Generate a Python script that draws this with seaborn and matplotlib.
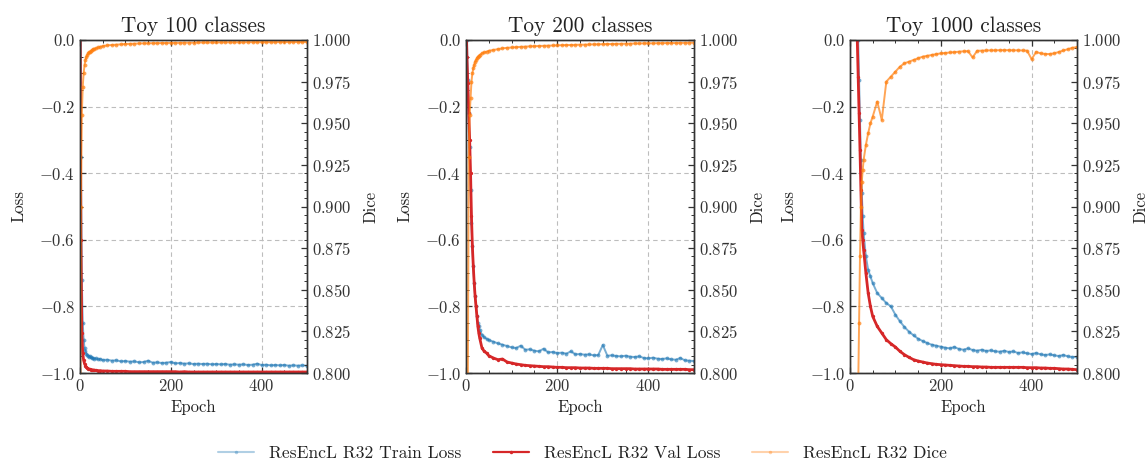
import matplotlib
matplotlib.use("Agg")
import matplotlib.pyplot as plt
import seaborn as sns
import pandas as pd
from matplotlib.ticker import MultipleLocator
from matplotlib.lines import Line2D

# ---------------- data ----------------
TITLES = ["Toy 100 classes", "Toy 200 classes", "Toy 1000 classes"]
LEGEND_LABELS = ["ResEncL R32 Train Loss", "ResEncL R32 Val Loss", "ResEncL R32 Dice"]

EPOCHS = [0, 2, 4, 6, 8, 10, 12, 14, 16, 18, 20, 22, 24, 26, 28, 30,
          35, 40, 45, 50,
          60, 70, 80, 90, 100, 110, 120, 130, 140, 150,
          160, 170, 180, 190, 200, 210, 220, 230, 240, 250,
          260, 270, 280, 290, 300, 310, 320, 330, 340, 350,
          360, 370, 380, 390, 400, 410, 420, 430, 440, 450,
          460, 470, 480, 490, 500]

# Toy 100 classes
train_100 = [0.30, -0.35, -0.72, -0.85, -0.90, -0.925, -0.935, -0.942, -0.946, -0.948, -0.951, -0.950, -0.953, -0.955, -0.954, -0.957,
             -0.956, -0.959, -0.958, -0.961,
             -0.960, -0.963, -0.962, -0.965, -0.964, -0.966, -0.965, -0.968, -0.967, -0.963,
             -0.969, -0.968, -0.970, -0.969, -0.967, -0.971, -0.970, -0.972, -0.971, -0.973,
             -0.972, -0.973, -0.972, -0.974, -0.973, -0.974, -0.973, -0.975, -0.974, -0.975,
             -0.974, -0.976, -0.975, -0.972, -0.976, -0.975, -0.977, -0.976, -0.977, -0.976,
             -0.978, -0.977, -0.978, -0.977, -0.978]
val_100 = [0.20, -0.60, -0.88, -0.94, -0.962, -0.972, -0.978, -0.982, -0.985, -0.987, -0.988, -0.989, -0.990, -0.990, -0.991, -0.991,
           -0.992, -0.993, -0.993, -0.994,
           -0.994, -0.995, -0.995, -0.995, -0.995, -0.996, -0.996, -0.996, -0.996, -0.996,
           -0.996, -0.996, -0.996, -0.996, -0.996, -0.996, -0.997, -0.996, -0.997, -0.997,
           -0.997, -0.997, -0.997, -0.997, -0.997, -0.997, -0.997, -0.997, -0.997, -0.997,
           -0.997, -0.997, -0.997, -0.997, -0.997, -0.997, -0.997, -0.997, -0.997, -0.997,
           -0.997, -0.997, -0.997, -0.997, -0.997]
dice_100 = [0.70, 0.90, 0.955, 0.972, 0.980, 0.985, 0.988, 0.990, 0.991, 0.992, 0.9925, 0.993, 0.9935, 0.994, 0.9943, 0.9946,
            0.995, 0.9955, 0.996, 0.9963,
            0.9968, 0.997, 0.9972, 0.9974, 0.9976, 0.9977, 0.9978, 0.9979, 0.998, 0.998,
            0.9981, 0.9981, 0.9982, 0.9982, 0.9983, 0.9983, 0.9983, 0.9984, 0.9984, 0.9984,
            0.9985, 0.9985, 0.9985, 0.9985, 0.9985, 0.9986, 0.9986, 0.9986, 0.9986, 0.9986,
            0.9986, 0.9987, 0.9987, 0.9987, 0.9987, 0.9987, 0.9987, 0.9987, 0.9988, 0.9988,
            0.9988, 0.9988, 0.9988, 0.9988, 0.9988]

# Toy 200 classes
train_200 = [0.30, 0.00, -0.12, -0.22, -0.32, -0.45, -0.55, -0.62, -0.68, -0.73, -0.77, -0.80, -0.83, -0.85, -0.86, -0.87,
             -0.885, -0.893, -0.897, -0.901,
             -0.906, -0.911, -0.915, -0.919, -0.923, -0.925, -0.918, -0.930, -0.929, -0.933,
             -0.935, -0.927, -0.938, -0.937, -0.940, -0.939, -0.942, -0.935, -0.944, -0.943,
             -0.945, -0.944, -0.947, -0.946, -0.916, -0.948, -0.947, -0.949, -0.950, -0.948,
             -0.951, -0.952, -0.950, -0.955, -0.956, -0.954, -0.957, -0.958, -0.956, -0.959,
             -0.960, -0.955, -0.962, -0.963, -0.964]
val_200 = [0.10, -0.05, -0.13, -0.22, -0.30, -0.40, -0.53, -0.62, -0.68, -0.73, -0.77, -0.80, -0.83, -0.86, -0.88, -0.895,
           -0.925, -0.935, -0.940, -0.948,
           -0.955, -0.960, -0.958, -0.967, -0.970, -0.973, -0.975, -0.977, -0.978, -0.979,
           -0.980, -0.981, -0.981, -0.982, -0.983, -0.983, -0.984, -0.984, -0.984, -0.985,
           -0.985, -0.985, -0.986, -0.986, -0.986, -0.986, -0.987, -0.987, -0.987, -0.987,
           -0.987, -0.988, -0.988, -0.988, -0.988, -0.988, -0.988, -0.989, -0.989, -0.989,
           -0.989, -0.989, -0.989, -0.990, -0.990]
dice_200 = [0.30, 0.60, 0.79, 0.93, 0.955, 0.965, 0.975, 0.980, 0.983, 0.985, 0.987, 0.988, 0.989, 0.990, 0.9905, 0.991,
            0.992, 0.9925, 0.993, 0.9935,
            0.994, 0.9945, 0.995, 0.9953, 0.9955, 0.9957, 0.9959, 0.996, 0.9962, 0.9963,
            0.9964, 0.9965, 0.9966, 0.9967, 0.9968, 0.9969, 0.997, 0.997, 0.9971, 0.9972,
            0.9972, 0.9973, 0.9974, 0.9974, 0.9975, 0.9976, 0.9976, 0.9977, 0.9977, 0.9978,
            0.9978, 0.9979, 0.9979, 0.998, 0.998, 0.998, 0.9981, 0.9981, 0.9982, 0.9982,
            0.9982, 0.9983, 0.9983, 0.9984, 0.9984]

# Toy 1000 classes
train_1000 = [1.60, 1.45, 1.30, 1.10, 0.90, 0.70, 0.50, 0.30, 0.12, 0.00, -0.12, -0.24, -0.36, -0.46, -0.53, -0.58,
              -0.65, -0.69, -0.71, -0.73,
              -0.76, -0.775, -0.79, -0.80, -0.825, -0.845, -0.862, -0.876, -0.887, -0.897,
              -0.904, -0.910, -0.915, -0.918, -0.921, -0.924, -0.926, -0.922, -0.928, -0.930,
              -0.926, -0.931, -0.933, -0.930, -0.934, -0.932, -0.935, -0.936, -0.933, -0.937,
              -0.935, -0.940, -0.938, -0.941, -0.943, -0.940, -0.944, -0.946, -0.944, -0.947,
              -0.949, -0.946, -0.950, -0.952, -0.951]
val_1000 = [2.00, 1.80, 1.60, 1.35, 1.05, 0.80, 0.50, 0.25, 0.00, -0.11, -0.22, -0.33, -0.45, -0.57, -0.60, -0.63,
            -0.70, -0.76, -0.80, -0.83,
            -0.86, -0.88, -0.90, -0.912, -0.922, -0.935, -0.945, -0.953, -0.960, -0.964,
            -0.967, -0.970, -0.972, -0.974, -0.975, -0.976, -0.977, -0.978, -0.979, -0.980,
            -0.980, -0.981, -0.981, -0.982, -0.982, -0.983, -0.983, -0.983, -0.983, -0.983,
            -0.983, -0.983, -0.983, -0.984, -0.984, -0.984, -0.985, -0.985, -0.986, -0.986,
            -0.987, -0.988, -0.988, -0.989, -0.990]
dice_1000 = [0.30, 0.35, 0.40, 0.45, 0.50, 0.55, 0.60, 0.65, 0.70, 0.79, 0.83, 0.87, 0.90, 0.915, 0.922, 0.928,
             0.937, 0.944, 0.950, 0.954,
             0.963, 0.952, 0.975, 0.978, 0.981, 0.984, 0.986, 0.987, 0.988, 0.989,
             0.990, 0.9905, 0.991, 0.9915, 0.992, 0.9922, 0.9925, 0.9927, 0.993, 0.9932,
             0.9933, 0.9895, 0.9935, 0.9936, 0.9937, 0.9938, 0.9938, 0.9939, 0.9939, 0.9939,
             0.9938, 0.9938, 0.9937, 0.9936, 0.9885, 0.9928, 0.9920, 0.9916, 0.9916, 0.9920,
             0.9928, 0.9937, 0.9945, 0.9953, 0.9958]

PANELS = [(train_100, val_100, dice_100),
          (train_200, val_200, dice_200),
          (train_1000, val_1000, dice_1000)]

LOSS_TICKS = [-1.0, -0.8, -0.6, -0.4, -0.2, 0.0]
DICE_TICKS = [0.800, 0.825, 0.850, 0.875, 0.900, 0.925, 0.950, 0.975, 1.000]
EPOCH_TICKS = [0, 200, 400]

# ---------------- style ----------------
BLUE, RED, ORANGE = "#1f77b4", "#d62728", "#ff7f0e"

sns.set_theme(style="ticks")
plt.rcParams.update({
    "font.family": "serif",
    "font.serif": ["cmr10", "DejaVu Serif"],
    "mathtext.fontset": "cm",
    "axes.formatter.use_mathtext": True,
    "axes.unicode_minus": True,
    "font.size": 12,
    "axes.titlesize": 15.3,
    "axes.labelsize": 12,
    "xtick.labelsize": 12,
    "ytick.labelsize": 12,
    "axes.edgecolor": "#333333",
    "axes.linewidth": 1.0,
    "text.color": "#222222",
    "axes.labelcolor": "#222222",
    "xtick.color": "#333333",
    "ytick.color": "#333333",
})

W, H = 1148, 463
fig = plt.figure(figsize=(W / 100, H / 100), dpi=100)
lefts = [80, 466, 850]
widths = [227, 228, 227]
top_px, bot_px = 40, 373

for i, (tr, va, di) in enumerate(PANELS):
    ax = fig.add_axes([lefts[i] / W, 1 - bot_px / H, widths[i] / W, (bot_px - top_px) / H])
    ax2 = ax.twinx()
    df = pd.DataFrame({"Epoch": EPOCHS, "train": tr, "val": va, "dice": di})

    ax.grid(True, which="major", ls=(0, (4, 3)), color="#bdbdbd", lw=0.8)
    ax.set_axisbelow(True)
    sns.lineplot(data=df, x="Epoch", y="train", ax=ax, color=BLUE, alpha=0.6,
                 linewidth=1.4, marker="o", markersize=2.8, markeredgewidth=0, legend=False)
    sns.lineplot(data=df, x="Epoch", y="val", ax=ax, color=RED, alpha=1.0,
                 linewidth=2.0, marker="o", markersize=2.4, markeredgewidth=0, legend=False)
    sns.lineplot(data=df, x="Epoch", y="dice", ax=ax2, color=ORANGE, alpha=0.7,
                 linewidth=1.4, marker="o", markersize=2.8, markeredgewidth=0, legend=False)

    ax.set_xlim(0, 500)
    ax.set_ylim(-1.0, 0.0)
    ax2.set_ylim(0.8, 1.0)
    ax.set_xticks(EPOCH_TICKS)
    ax.xaxis.set_minor_locator(MultipleLocator(50))
    ax.set_yticks(LOSS_TICKS)
    ax.yaxis.set_minor_locator(MultipleLocator(0.05))
    ax2.set_yticks(DICE_TICKS)
    ax2.yaxis.set_minor_locator(MultipleLocator(0.005))

    ax.tick_params(which="both", direction="in", top=True, right=False, bottom=True, left=True)
    ax.tick_params(which="major", length=4, width=0.9)
    ax.tick_params(which="minor", length=2, width=0.7)
    ax2.tick_params(which="both", direction="in", right=True, left=False, top=False, bottom=False)
    ax2.tick_params(which="major", length=4, width=0.9)
    ax2.tick_params(which="minor", length=2, width=0.7)

    ax.set_title(TITLES[i], pad=6)
    ax.set_xlabel("Epoch", labelpad=4)
    ax.set_ylabel("Loss", labelpad=9)
    ax2.set_ylabel("Dice", labelpad=9)

handles = [
    Line2D([], [], color=BLUE, alpha=0.35, lw=1.5, marker="o", markersize=2.5, markeredgewidth=0),
    Line2D([], [], color=RED, alpha=1.0, lw=1.6, marker="o", markersize=2.5, markeredgewidth=0),
    Line2D([], [], color=ORANGE, alpha=0.35, lw=1.5, marker="o", markersize=2.5, markeredgewidth=0),
]
fig.legend(handles, LEGEND_LABELS, loc="center", bbox_to_anchor=(582.5 / W, 1 - 453 / H), ncol=3,
           frameon=False, fontsize=12.6, columnspacing=1.8, handlelength=2.05, handletextpad=0.86)

fig.savefig("out.png", dpi=100)
